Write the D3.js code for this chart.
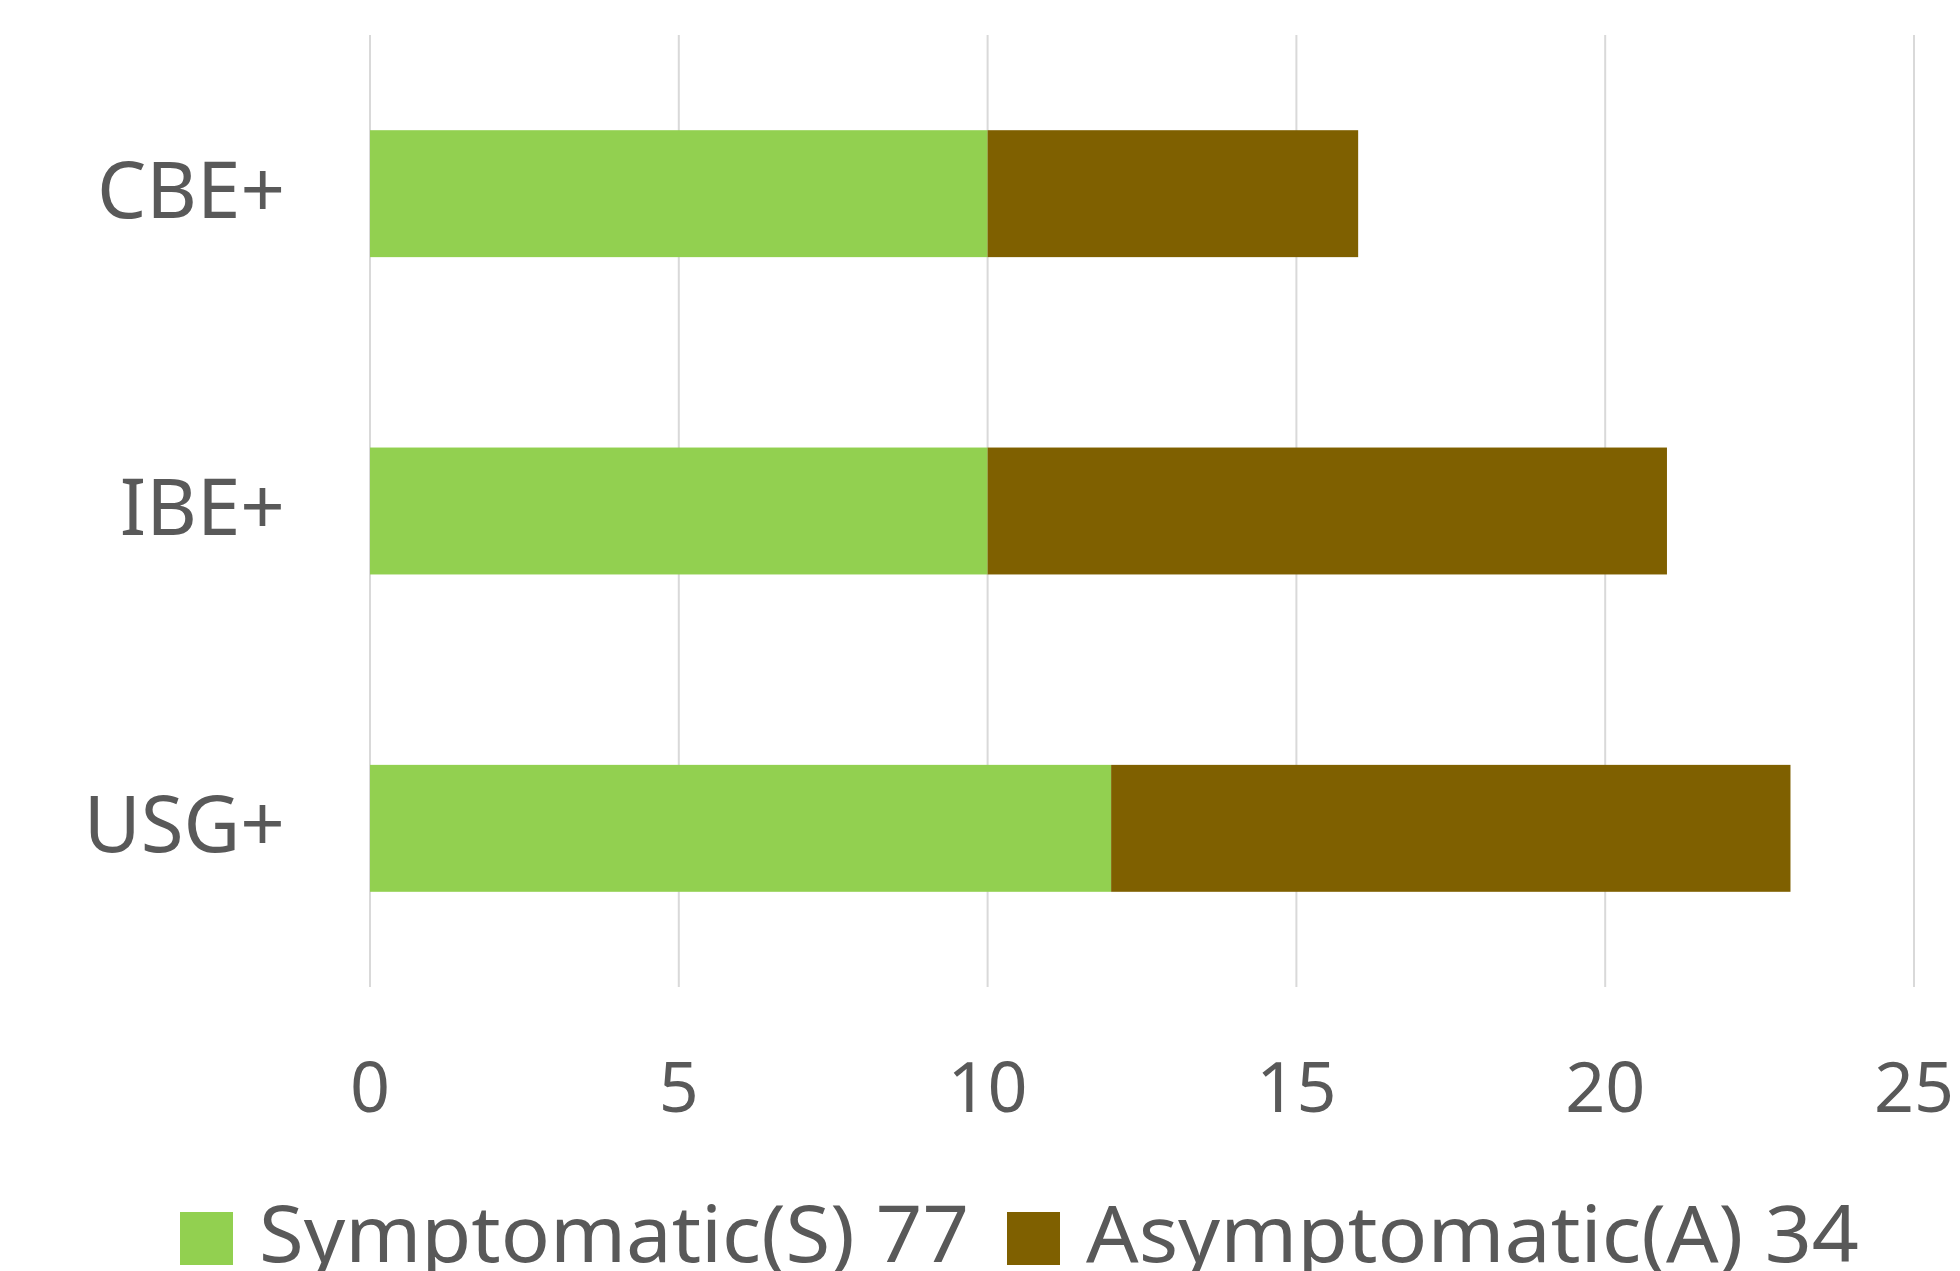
<!DOCTYPE html>
<html>
<head>
<meta charset="utf-8">
<script src="https://cdn.jsdelivr.net/npm/d3@7"></script>
<style>
    body { margin: 0; background: #fff; }
    svg text { font-family: "Noto Sans", "Open Sans", sans-serif; fill: #595959; }
</style>
</head>
<body>
<div id="chart"></div>
<script>
// chart data
let categories = ['CBE+', 'IBE+', 'USG+'];
let symptomatic = [10, 10, 12];
let asymptomatic = [6, 11, 11];
let seriesNames = ['Symptomatic(S) 77', 'Asymptomatic(A) 34'];
let seriesColors = ['#92d050', '#7f6000'];
let xTicks = [0, 5, 10, 15, 20, 25];

let width = 1960, height = 1271;
let margin = {top: 35, right: 46, bottom: 284, left: 370};

let svg = d3.select('#chart').append('svg')
    .attr('width', width)
    .attr('height', height);

let x = d3.scaleLinear()
    .domain([0, 25])
    .range([margin.left, width - margin.right]);

let y = d3.scaleBand()
    .domain(categories)
    .range([margin.top, height - margin.bottom])
    .paddingInner(0.6)
    .paddingOuter(0.3);

// gridlines
svg.append('g')
    .selectAll('line')
    .data(xTicks)
    .enter()
    .append('line')
    .attr('x1', d => x(d))
    .attr('x2', d => x(d))
    .attr('y1', margin.top)
    .attr('y2', height - margin.bottom)
    .attr('stroke', '#d9d9d9')
    .attr('stroke-width', 2);

// stacked bars
let rows = categories.map((c, i) => ({cat: c, s: symptomatic[i], a: asymptomatic[i]}));

svg.append('g')
    .selectAll('rect')
    .data(rows)
    .enter()
    .append('rect')
    .attr('x', d => x(0))
    .attr('y', d => y(d.cat))
    .attr('width', d => x(d.s) - x(0))
    .attr('height', y.bandwidth())
    .attr('fill', seriesColors[0]);

svg.append('g')
    .selectAll('rect')
    .data(rows)
    .enter()
    .append('rect')
    .attr('x', d => x(d.s))
    .attr('y', d => y(d.cat))
    .attr('width', d => x(d.s + d.a) - x(d.s))
    .attr('height', y.bandwidth())
    .attr('fill', seriesColors[1]);

// category labels
svg.append('g')
    .selectAll('text')
    .data(categories)
    .enter()
    .append('text')
    .attr('x', 285)
    .attr('y', d => y(d) + y.bandwidth() / 2 + 24)
    .attr('text-anchor', 'end')
    .style('font-size', '78px')
    .text(d => d);

// tick labels
svg.append('g')
    .selectAll('text')
    .data(xTicks)
    .enter()
    .append('text')
    .attr('x', d => x(d))
    .attr('y', 1112)
    .attr('text-anchor', 'middle')
    .style('font-size', '70px')
    .text(d => d);

// legend
let legendX = [180, 1007];
let legend = svg.append('g');

legend.selectAll('rect')
    .data(seriesNames)
    .enter()
    .append('rect')
    .attr('x', (d, i) => legendX[i])
    .attr('y', 1212)
    .attr('width', 53)
    .attr('height', 53)
    .attr('fill', (d, i) => seriesColors[i]);

legend.selectAll('text')
    .data(seriesNames)
    .enter()
    .append('text')
    .attr('x', (d, i) => legendX[i] + 79)
    .attr('y', 1262)
    .attr('textLength', (d, i) => i === 0 ? 710 : 773)
    .attr('lengthAdjust', 'spacingAndGlyphs')
    .style('font-size', '78px')
    .text(d => d);
</script>
</body>
</html>
